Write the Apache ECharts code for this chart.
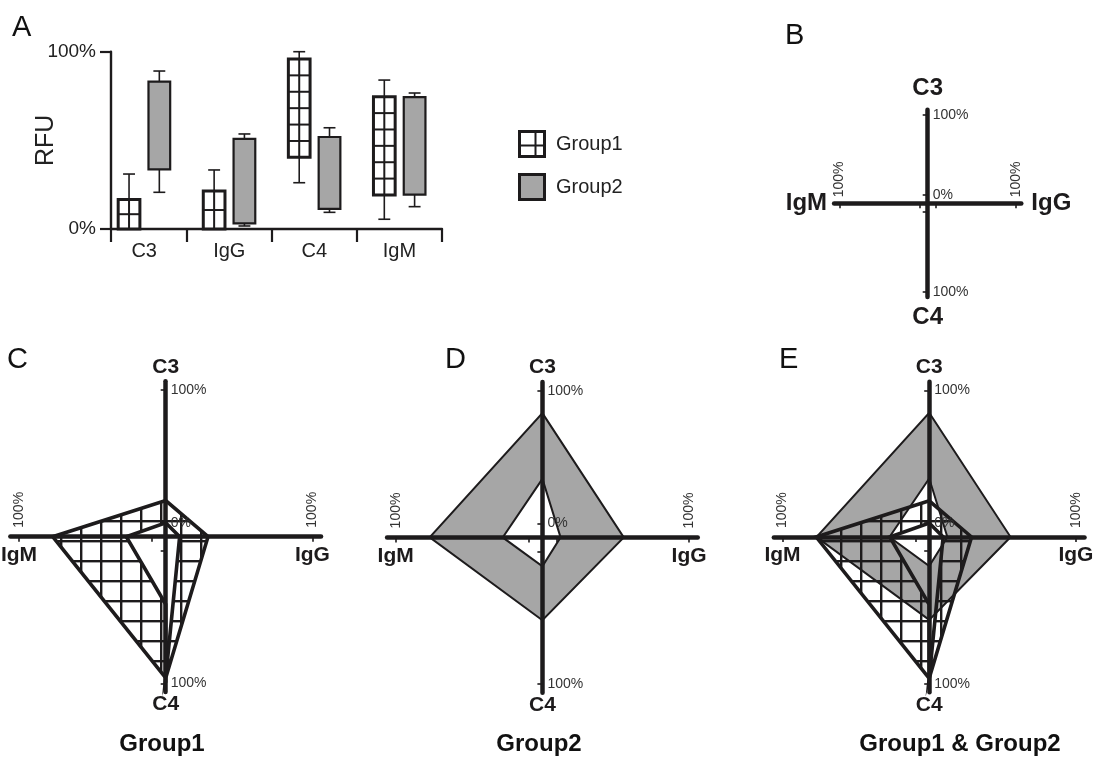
<!DOCTYPE html>
<html><head><meta charset="utf-8">
<script src="https://cdn.jsdelivr.net/npm/echarts@6/dist/echarts.min.js"></script>
<style>html,body{margin:0;padding:0;background:#fff}#c{width:1098px;height:771px}</style>
</head><body><div id="c"></div>
<script>
// ---------------- data ----------------
const categories = ['C3', 'IgG', 'C4', 'IgM'];
const groupNames = ['Group1', 'Group2'];
// box plot values (% RFU): whisker min, box bottom (Q1), box top (Q3), whisker max
const group1Min = [0, 0, 26.1, 5.5];
const group1Q1  = [0, 0, 40.4, 19.2];
const group1Q3  = [16.7, 21.4, 95.9, 74.6];
const group1Max = [31.0, 33.3, 100, 84.0];
const group2Min = [20.7, 1.7, 9.4, 12.6];
const group2Q1  = [33.6, 3.2, 11.3, 19.4];
const group2Q3  = [83.1, 50.8, 51.9, 74.4];
const group2Max = [89.1, 53.6, 57.1, 76.7];
const yTickValues = [0, 100];
const radarTickLabels = ['0%', '100%'];
const panelLetters = ['A', 'B', 'C', 'D', 'E'];
const panelTitles = ['Group1', 'Group2', 'Group1 & Group2'];

// ---------------- styling helpers ----------------
const INK = '#1d1b1c';
const GRAY = '#a6a6a6';
const FONT = '"Liberation Sans", Arial, Helvetica, sans-serif';
const OFF = 10.5;            // radial offset of the 0% point
const T100 = OFF + 100;      // radial position of 100%
const AX = T100 + 6.5;       // axis half-extent

function hatchCanvas(size, lw) {
  const c = document.createElement('canvas');
  c.width = size; c.height = size;
  const g = c.getContext('2d');
  g.fillStyle = INK;
  g.fillRect(0, 0, size, lw);
  g.fillRect(0, 0, lw, size);
  return c;
}
const hatch = hatchCanvas(20, 2.4);

function legendIcon(hatched) {
  const c = document.createElement('canvas');
  c.width = 28; c.height = 28;
  const g = c.getContext('2d');
  g.fillStyle = hatched ? '#fff' : GRAY;
  g.fillRect(0, 0, 28, 28);
  g.fillStyle = INK;
  if (hatched) { g.fillRect(16.5, 2, 2, 24); g.fillRect(2, 14.5, 24, 2); }
  g.lineWidth = 3; g.strokeStyle = INK;
  g.strokeRect(1.5, 1.5, 25, 25);
  return 'image://' + c.toDataURL();
}

// ---------------- panel A box series ----------------
function boxRender(gi) {
  return function (params, api) {
    const cat = api.value(0);
    const band = api.size([1, 0])[0];
    const cx = api.coord([cat, 0])[0] + (gi === 0 ? -1 : 1) * band * 0.178;
    const w = band * 0.255, cap = band * 0.14;
    const yMin = api.coord([cat, api.value(1)])[1];
    const yQ1 = api.coord([cat, api.value(2)])[1];
    const yQ3 = api.coord([cat, api.value(3)])[1];
    const yMax = api.coord([cat, api.value(4)])[1];
    const ls = { stroke: INK, lineWidth: 1.6 };
    const ch = [];
    ch.push({ type: 'line', shape: { x1: cx, y1: yQ3, x2: cx, y2: yMax }, style: ls });
    ch.push({ type: 'line', shape: { x1: cx - cap / 2, y1: yMax, x2: cx + cap / 2, y2: yMax }, style: ls });
    if (yMin - yQ1 > 0.5) {
      ch.push({ type: 'line', shape: { x1: cx, y1: yQ1, x2: cx, y2: yMin }, style: ls });
      ch.push({ type: 'line', shape: { x1: cx - cap / 2, y1: yMin, x2: cx + cap / 2, y2: yMin }, style: ls });
    }
    ch.push({ type: 'rect', shape: { x: cx - w / 2, y: yQ3, width: w, height: yQ1 - yQ3 },
      style: { fill: gi === 0 ? '#fff' : GRAY, stroke: 'none' } });
    if (gi === 0) {
      const h = yQ1 - yQ3;
      const n = Math.max(1, Math.round(h / 17.5));
      ch.push({ type: 'line', shape: { x1: cx, y1: yQ3, x2: cx, y2: yQ1 }, style: { stroke: INK, lineWidth: 2 } });
      for (let k = 1; k < n; k++) {
        const y = yQ1 - k * h / n;
        ch.push({ type: 'line', shape: { x1: cx - w / 2, y1: y, x2: cx + w / 2, y2: y }, style: { stroke: INK, lineWidth: 2 } });
      }
    }
    ch.push({ type: 'rect', shape: { x: cx - w / 2, y: yQ3, width: w, height: yQ1 - yQ3 },
      style: { fill: 'none', stroke: INK, lineWidth: gi === 0 ? 3 : 2.2 } });
    return { type: 'group', children: ch };
  };
}
function boxData(mn, q1, q3, mx) {
  return categories.map((c, i) => [i, mn[i], q1[i], q3[i], mx[i]]);
}

// ---------------- radar-like panels on cartesian grids ----------------
const radarGrids = [
  { cx: 927.7, cy: 203.3, unit: 0.8, big: false },
  { cx: 165.7, cy: 536.7, unit: 1.3276, big: true },
  { cx: 542.4, cy: 537.4, unit: 1.3276, big: true },
  { cx: 929.2, cy: 537.0, unit: 1.3276, big: true }
];

const grids = [{ left: 111, top: 51.7, width: 331, height: 177.3, outerBoundsMode: 'none' }];
radarGrids.forEach(p => {
  const h = AX * p.unit;
  grids.push({ left: p.cx - h, top: p.cy - h, width: 2 * h, height: 2 * h, outerBoundsMode: 'none' });
});

const xAxes = [{
  gridIndex: 0, type: 'value', min: -0.39, max: 3.5,
  axisLine: { onZero: false, lineStyle: { color: INK, width: 2.4 } },
  axisTick: { show: true, customValues: [-0.39, 0.5, 1.5, 2.5, 3.5], length: 13, lineStyle: { color: INK, width: 2.2 } },
  axisLabel: { customValues: [0, 1, 2, 3], formatter: v => categories[Math.round(v)], fontSize: 20, color: '#222', margin: 12, fontFamily: FONT },
  splitLine: { show: false }
}];
const yAxes = [{
  gridIndex: 0, type: 'value', min: yTickValues[0], max: yTickValues[1], interval: 100,
  name: 'RFU', nameLocation: 'middle', nameGap: 52, nameMoveOverlap: false,
  nameTextStyle: { fontSize: 25, color: '#222', fontFamily: FONT },
  axisLine: { show: true, onZero: false, lineStyle: { color: INK, width: 2.4 } },
  axisTick: { show: true, length: 11, lineStyle: { color: INK, width: 2.2 } },
  axisLabel: { formatter: '{value}%', fontSize: 19, color: '#222', margin: 15, fontFamily: FONT },
  splitLine: { show: false }
}];
radarGrids.forEach((p, i) => {
  const g = i + 1;
  const common = {
    gridIndex: g, type: 'value', min: -AX, max: AX, z: 10,
    axisLine: { onZero: true, lineStyle: { color: INK, width: 4.5 } },
    axisTick: { show: true, customValues: [-T100, -OFF, OFF, T100], length: 5, lineStyle: { color: INK, width: 1.6 } },
    axisLabel: { show: false },
    splitLine: { show: false }
  };
  xAxes.push(Object.assign({}, common));
  yAxes.push(Object.assign({}, common));
});

function ringRender(inner, outer, s, j, hatched) {
  return function (params, api) {
    const dirs = [[0, 1], [1, 0], [0, -1], [-1, 0]];
    const pt = (k, v) => api.coord([dirs[k][0] * (OFF + v), dirs[k][1] * (OFF + v)]);
    const pts = [];
    for (let n = 0; n <= 4; n++) { const k = (s + n) % 4; pts.push(pt(k, outer[k])); }
    let k = j;
    for (let n = 0; n < 4; n++) { k = (j - n + 4) % 4; pts.push(pt(k, inner[k])); }
    if (k !== s) pts.push(pt(s, inner[s]));
    return {
      type: 'polygon', shape: { points: pts },
      style: {
        fill: hatched ? { image: hatch, repeat: 'repeat' } : GRAY,
        stroke: INK, lineWidth: hatched ? 3.6 : 2, lineJoin: 'miter', miterLimit: 20
      }
    };
  };
}
function ringSeries(g, gi) {
  return {
    type: 'custom', name: groupNames[gi], coordinateSystem: 'cartesian2d', xAxisIndex: g, yAxisIndex: g,
    silent: true, z: gi === 0 ? 4 : 3, data: [[0, 0]], encode: { x: 0, y: 1 },
    renderItem: gi === 0 ? ringRender(group1Q1, group1Q3, 2, 1, true) : ringRender(group2Q1, group2Q3, 0, 0, false)
  };
}
// axis names and tick labels of a radar panel, anchored at axis values
function labelSeries(g, big) {
  const nm = (name, value, pos, d) => ({ name, value, label: { position: pos, distance: d } });
  const names = big ? [
    nm(categories[0], [0, AX], 'top', 4),
    nm(categories[1], [T100, 0], 'bottom', 8),
    nm(categories[2], [0, -AX], 'bottom', 2),
    nm(categories[3], [-T100, 0], 'bottom', 8)
  ] : [
    nm(categories[0], [0, AX], 'top', 9),
    nm(categories[1], [AX, 0], 'right', 10),
    nm(categories[2], [0, -AX], 'bottom', 8),
    nm(categories[3], [-AX, 0], 'left', 7)
  ];
  const tk = (name, value, rot) => ({
    name, value,
    label: rot
      ? { position: 'top', distance: big ? 9 : 6, rotate: 90, align: 'left', verticalAlign: 'middle', fontSize: 14, fontWeight: 'normal', color: '#333' }
      : { position: 'right', distance: 5, fontSize: 14, fontWeight: 'normal', color: '#333' }
  });
  const ticks = [
    tk(radarTickLabels[1], [0, T100], false),
    tk(radarTickLabels[0], [0, OFF], false),
    tk(radarTickLabels[1], [0, -T100], false),
    tk(radarTickLabels[1], [-T100, 0], true),
    tk(radarTickLabels[1], [T100, 0], true)
  ];
  return {
    type: 'scatter', xAxisIndex: g, yAxisIndex: g, symbolSize: 0, silent: true, z: 12,
    itemStyle: { opacity: 1 },
    data: names.concat(ticks),
    label: { show: true, formatter: '{b}', fontSize: big ? 21 : 24, fontWeight: 'bold', color: INK, fontFamily: FONT }
  };
}

const series = [
  { type: 'custom', name: groupNames[0], xAxisIndex: 0, yAxisIndex: 0, renderItem: boxRender(0),
    data: boxData(group1Min, group1Q1, group1Q3, group1Max), encode: { x: 0, y: [1, 2, 3, 4] } },
  { type: 'custom', name: groupNames[1], xAxisIndex: 0, yAxisIndex: 0, renderItem: boxRender(1),
    data: boxData(group2Min, group2Q1, group2Q3, group2Max), encode: { x: 0, y: [1, 2, 3, 4] } },
  labelSeries(1, false),
  ringSeries(2, 0), labelSeries(2, true),
  ringSeries(3, 1), labelSeries(3, true),
  ringSeries(4, 1), ringSeries(4, 0), labelSeries(4, true)
];

const letterPos = [[12, 13], [785, 21], [7, 345], [445, 345], [779, 345]];
const titles = panelLetters.map((t, i) => ({
  text: t, left: letterPos[i][0], top: letterPos[i][1], padding: 0,
  textStyle: { fontSize: 29, fontWeight: 'normal', color: '#111', fontFamily: FONT }
}));
const titleCenters = [162, 539, 960];
panelTitles.forEach((t, i) => titles.push({
  text: t, left: titleCenters[i], top: 732, padding: 0, textAlign: 'center',
  textStyle: { fontSize: 24, fontWeight: 'bold', color: '#111', fontFamily: FONT }
}));

const chart = echarts.init(document.getElementById('c'), null, { renderer: 'canvas' });
chart.setOption({
  animation: false,
  backgroundColor: '#fff',
  textStyle: { fontFamily: FONT },
  title: titles,
  legend: {
    orient: 'vertical', left: 513, top: 125, itemWidth: 28, itemHeight: 28, itemGap: 15, selectedMode: false,
    data: [{ name: groupNames[0], icon: legendIcon(true) }, { name: groupNames[1], icon: legendIcon(false) }],
    textStyle: { fontSize: 20, color: '#222', padding: [0, 0, 0, 5], fontFamily: FONT }
  },
  grid: grids,
  xAxis: xAxes,
  yAxis: yAxes,
  series: series
});
</script>
</body></html>
